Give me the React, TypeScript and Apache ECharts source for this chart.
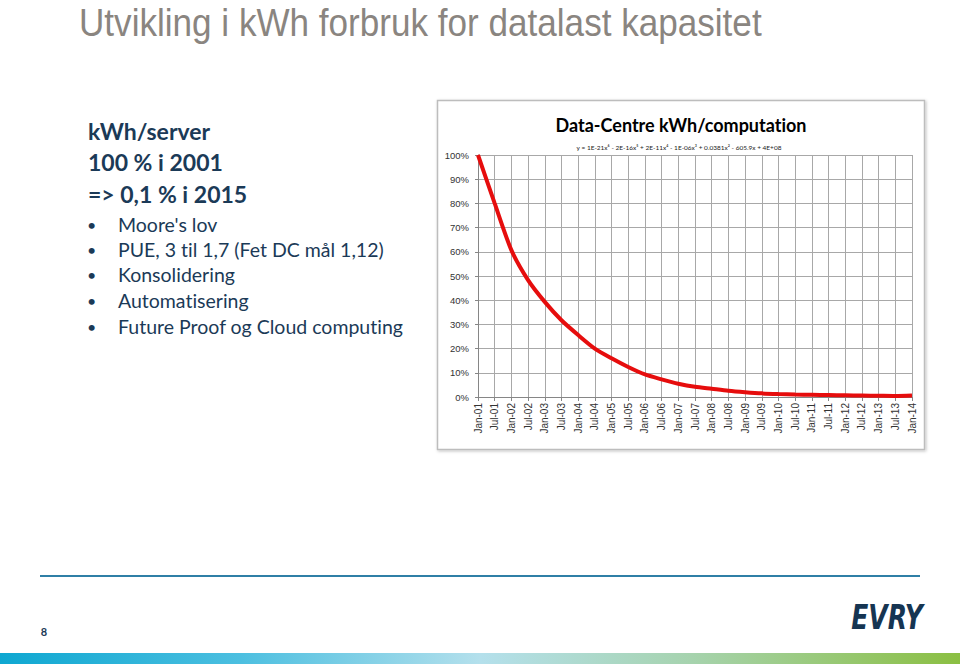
import React, { useEffect, useRef } from 'react';
import * as echarts from 'echarts';

const slideTitle = 'Utvikling i kWh forbruk for datalast kapasitet';
const headings = ['kWh/server', '100 % i 2001', '=> 0,1 % i 2015'];
const bullets = [
  "Moore's lov",
  'PUE, 3 til 1,7 (Fet DC mål 1,12)',
  'Konsolidering',
  'Automatisering',
  'Future Proof og Cloud computing',
];
const chartTitle = 'Data-Centre kWh/computation';
const equation = 'y = 1E-21x⁶ - 2E-16x⁵ + 2E-11x⁴ - 1E-06x³ + 0.0381x² - 605.9x + 4E+08';
const pageNumber = '8';
const logoText = 'EVRY';

const categories = [
  'Jan-01', 'Jul-01', 'Jan-02', 'Jul-02', 'Jan-03', 'Jul-03', 'Jan-04', 'Jul-04',
  'Jan-05', 'Jul-05', 'Jan-06', 'Jul-06', 'Jan-07', 'Jul-07', 'Jan-08', 'Jul-08',
  'Jan-09', 'Jul-09', 'Jan-10', 'Jul-10', 'Jan-11', 'Jul-11', 'Jan-12', 'Jul-12',
  'Jan-13', 'Jul-13', 'Jan-14',
];
const values = [
  100, 80, 60.7, 48.3, 39.3, 31.7, 25.6, 20,
  16, 12.4, 9.3, 7.3, 5.5, 4.2, 3.4, 2.6,
  2.0, 1.5, 1.2, 1.0, 0.9, 0.8, 0.7, 0.6,
  0.5, 0.4, 0.6,
];

const NAVY = '#1b3a57';

export default function App() {
  const ref = useRef<HTMLDivElement>(null);
  useEffect(() => {
    const chart = echarts.init(ref.current!, null, { renderer: 'svg' });
    const headingY = [131, 162, 194];
    const bulletY = [224, 249, 274, 300, 326];
    const graphic: any[] = [
      {
        type: 'rect', z: -10, silent: true,
        shape: { x: 437.5, y: 100.5, width: 487, height: 349 },
        style: { fill: '#ffffff', stroke: '#bdbdbd', lineWidth: 1.5, shadowBlur: 3, shadowColor: 'rgba(0,0,0,0.25)', shadowOffsetX: 1, shadowOffsetY: 1 },
      },
      {
        type: 'text', x: 79, y: 3, scaleX: 0.9,
        style: { x: 0, y: 0, text: slideTitle, font: '39px "Liberation Sans Narrow", "Liberation Sans", Arial, sans-serif', fill: '#8a8580', verticalAlign: 'top' },
      },
      ...headings.map((t, i) => ({
        type: 'text', x: 88, y: headingY[i],
        style: { text: t, font: 'bold 23px Lato, "Noto Sans", sans-serif', fill: NAVY, verticalAlign: 'middle' },
      })),
      ...bullets.map((t, i) => ({
        type: 'group',
        children: [
          { type: 'text', x: 87, y: bulletY[i], style: { text: '•', font: '16px Lato, sans-serif', fill: NAVY, verticalAlign: 'middle' } },
          { type: 'text', x: 118, y: bulletY[i], style: { text: t, font: '19.5px Lato, "Noto Sans", sans-serif', fill: NAVY, verticalAlign: 'middle' } },
        ],
      })),
      {
        type: 'text', x: 681, y: 125,
        style: { text: chartTitle, font: 'bold 18px Lato, "Noto Sans", sans-serif', fill: '#000000', align: 'center', verticalAlign: 'middle' },
      },
      {
        type: 'text', x: 679, y: 147,
        style: { text: equation, font: '6.5px Lato, "Noto Sans", sans-serif', fill: '#222222', align: 'center', verticalAlign: 'middle' },
      },
      {
        type: 'line', silent: true,
        shape: { x1: 40, y1: 576, x2: 920, y2: 576 },
        style: { stroke: '#2f7fa6', lineWidth: 2 },
      },
      {
        type: 'text', x: 44, y: 631,
        style: { text: pageNumber, font: 'bold 11px Lato, sans-serif', fill: NAVY, align: 'center', verticalAlign: 'middle' },
      },
      {
        type: 'text', x: 887, y: 617, scaleY: 1.35,
        style: { x: 0, y: 0, text: logoText, font: 'italic 900 25px "DejaVu Sans", sans-serif', fill: '#163552', align: 'center', verticalAlign: 'middle' },
      },
      {
        type: 'rect', silent: true,
        shape: { x: 0, y: 653, width: 960, height: 11 },
        style: {
          fill: {
            type: 'linear', x: 0, y: 0, x2: 1, y2: 0,
            colorStops: [
              { offset: 0, color: '#0ea7d1' },
              { offset: 0.25, color: '#4cbfe0' },
              { offset: 0.5, color: '#b4e0ec' },
              { offset: 0.72, color: '#a6d3ae' },
              { offset: 1, color: '#8bbf42' },
            ],
          },
        },
      },
    ];

    chart.setOption({
      animation: false,
      backgroundColor: '#ffffff',
      graphic,
      grid: { left: 478, top: 155, right: 48, bottom: 267, containLabel: false },
      xAxis: {
        type: 'category',
        data: categories,
        boundaryGap: false,
        axisLine: { lineStyle: { color: '#868686', width: 1 } },
        axisTick: { show: true, length: 4, interval: 0, lineStyle: { color: '#868686' } },
        axisLabel: { interval: 0, rotate: 90, margin: 6, fontSize: 10, color: '#333333', fontFamily: '"Liberation Sans", Arial, sans-serif' },
        splitLine: { show: true, interval: 0, lineStyle: { color: '#a8a8a8', width: 1 } },
      },
      yAxis: {
        type: 'value',
        min: 0, max: 100, interval: 10,
        axisLine: { show: true, lineStyle: { color: '#868686', width: 1 } },
        axisTick: { show: true, length: 3, lineStyle: { color: '#868686' } },
        axisLabel: { formatter: '{value}%', fontSize: 9.5, color: '#333333', margin: 9, fontFamily: '"Liberation Sans", Arial, sans-serif' },
        splitLine: { show: true, lineStyle: { color: '#a8a8a8', width: 1 } },
      },
      series: [
        {
          type: 'line',
          data: values,
          smooth: 0.25,
          showSymbol: false,
          lineStyle: { color: '#e60d0d', width: 4 },
          z: 5,
        },
      ],
    });
    return () => chart.dispose();
  }, []);
  return (
    <>
      <style>{`text { font-variant-ligatures: none !important; font-feature-settings: "liga" 0, "dlig" 0 !important; }`}</style>
      <div ref={ref} style={{ position: 'fixed', left: 0, top: 0, width: 960, height: 664, background: '#fff' }} />
    </>
  );
}
